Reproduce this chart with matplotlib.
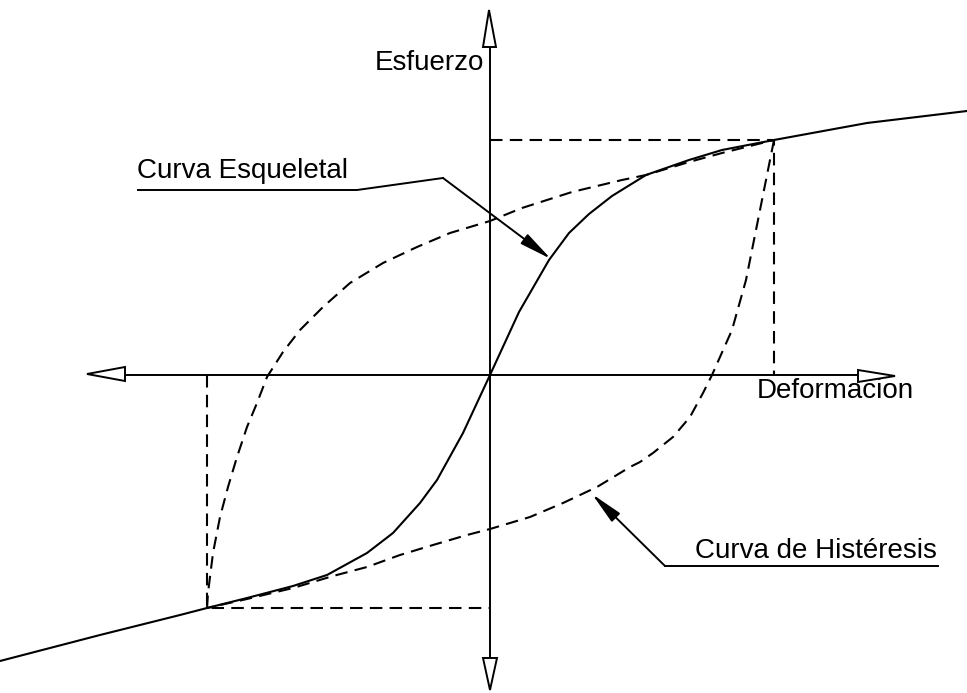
import matplotlib
matplotlib.use("Agg")
import matplotlib.pyplot as plt
from matplotlib.patches import Polygon, FancyArrowPatch

# diagram drawn in picture coordinates (x right, y down), origin of the axes at (490, 375)
skel_x = [0, 100, 180, 207, 247, 293, 327, 367, 393, 420, 437, 463, 490,
          519, 549, 569, 589, 612, 646, 689, 722, 774, 867, 967]
skel_y = [661, 635, 615, 608, 598, 586, 575, 553, 533, 503, 480, 433, 375,
          312, 260, 233, 214, 196, 175, 160, 150, 140, 123, 111]

# upper branch of the loop (loading from the lower-left peak)
up_x = [207, 208, 213, 220, 228, 237, 247, 257, 267, 283, 300, 323, 350,
        383, 417, 450, 490, 522, 572, 622, 646, 689, 722, 774]
up_y = [608, 593, 553, 517, 487, 457, 427, 403, 377, 352, 330, 307, 283,
        263, 247, 233, 221, 208, 192, 180, 175, 162, 153, 140]

# lower branch of the loop (unloading from the upper-right peak)
low_x = [774, 766, 756, 746, 732, 712, 703, 690, 673, 653, 640, 630, 597,
         563, 530, 490, 467, 433, 400, 367, 333, 293, 247, 207]
low_y = [140, 180, 230, 280, 330, 375, 393, 417, 437, 453, 462, 467, 487,
         503, 517, 529, 535, 545, 555, 567, 576, 588, 599, 608]

peak_hi = (774, 140)
peak_lo = (207, 608)
origin = (490, 375)

fig = plt.figure(figsize=(9.67, 6.93), dpi=100)
ax = fig.add_axes([0, 0, 1, 1])
ax.set_xlim(0, 967)
ax.set_ylim(693, 0)
ax.axis("off")

lw = 1.5
dash = (0, (6, 3.5))

# axes of the diagram
ax.plot([origin[0], origin[0]], [47, 658], color="black", lw=1.4)
ax.plot([125, 858], [origin[1], origin[1]], color="black", lw=1.4)
for tri in ([(489, 10), (483, 47), (496, 47)],
            [(490, 690), (483, 658), (497, 658)],
            [(87, 374), (125, 367), (125, 381)],
            [(895, 376), (858, 370), (858, 382)]):
    ax.add_patch(Polygon(tri, closed=True, facecolor="white",
                         edgecolor="black", lw=1.4, zorder=3))

# curves
ax.plot(skel_x, skel_y, color="black", lw=lw)
ax.plot(up_x, up_y, color="black", lw=lw, linestyle=dash)
ax.plot(low_x, low_y, color="black", lw=lw, linestyle=dash)

# projection lines of the peaks
ax.plot([origin[0], peak_hi[0], peak_hi[0]], [peak_hi[1], peak_hi[1], origin[1]],
        color="black", lw=lw, linestyle=dash)
ax.plot([peak_lo[0], peak_lo[0], origin[0]], [origin[1], peak_lo[1], peak_lo[1]],
        color="black", lw=lw, linestyle=dash)

font = dict(family="Liberation Sans", fontsize=20, color="black")
ax.text(484, 70, "Esfuerzo", ha="right", va="baseline", **font)
ax.text(757, 398, "Deformacion", ha="left", va="baseline", **font)
ax.text(137, 178, "Curva Esqueletal", ha="left", va="baseline", **font)
ax.text(695, 558, "Curva de Histéresis", ha="left", va="baseline", **font)

# leaders
ax.plot([138, 357, 443], [190, 190, 178], color="black", lw=1.4)
ax.add_patch(FancyArrowPatch((443, 178), (551, 259),
                             arrowstyle="-|>,head_length=1.1,head_width=0.2",
                             mutation_scale=18, color="black", lw=1.4,
                             shrinkA=0, shrinkB=0))
ax.plot([938, 665], [566, 566], color="black", lw=1.4)
ax.add_patch(FancyArrowPatch((665, 566), (592, 494),
                             arrowstyle="-|>,head_length=1.1,head_width=0.2",
                             mutation_scale=18, color="black", lw=1.4,
                             shrinkA=0, shrinkB=0))

fig.savefig("out.png", dpi=100)
